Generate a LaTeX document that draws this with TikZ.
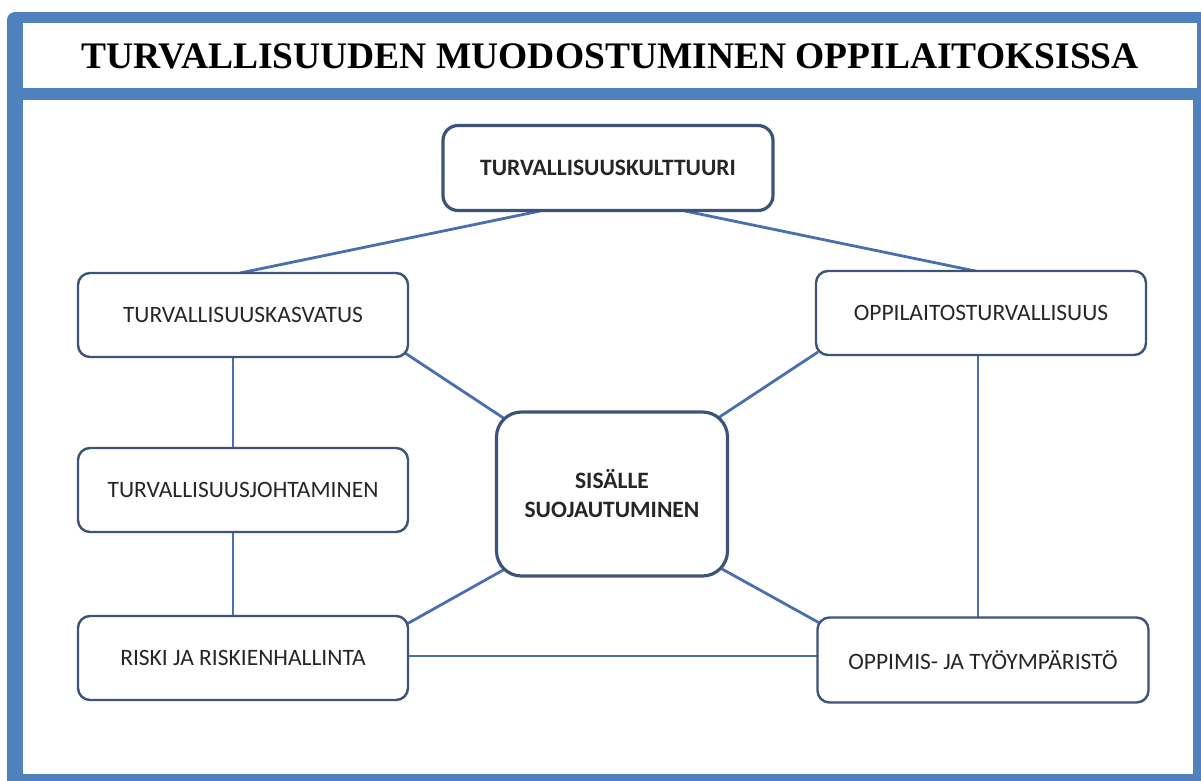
\documentclass[tikz,border=0pt]{standalone}
\usepackage{fontspec}
\setmainfont{Carlito}
\newfontfamily\titlefont{Liberation Serif}
\definecolor{frameblue}{HTML}{4F81BD}
\definecolor{boxline}{HTML}{3D5479}
\definecolor{linkblue}{HTML}{4A6FAE}
\pgfdeclarelayer{bg}
\pgfdeclarelayer{links}
\pgfsetlayers{bg,links,main}
\begin{document}
\begin{tikzpicture}[x=1pt,y=-1pt,
  box/.style={draw=boxline,line width=2.4pt,rounded corners=12pt,fill=white,inner sep=0pt,font=\fontsize{23.5}{27}\selectfont,text=black!85,minimum width=330pt,minimum height=84pt},
  mainbox/.style={box,line width=3.2pt,font=\fontsize{23.5}{29}\bfseries\selectfont},
  link/.style={draw=linkblue,line width=2.8pt}]
\useasboundingbox (0,0) rectangle (1201,780);
\begin{pgfonlayer}{bg}
\fill[frameblue,rounded corners=8pt] (7,12) rectangle (1220,800);
\fill[white] (23,23) rectangle (1197,88);
\fill[white] (23,100) rectangle (1193,774);
\end{pgfonlayer}
\node[font=\titlefont\fontsize{37.5}{40}\bfseries\selectfont,anchor=center] (title) at (610,56) {TURVALLISUUDEN MUODOSTUMINEN OPPILAITOKSISSA};
% nodes
\node[mainbox,rounded corners=15pt,minimum height=85pt] (kult) at (608,168) {TURVALLISUUSKULTTUURI};
\node[box] (kasv) at (243,315) {TURVALLISUUSKASVATUS};
\node[box] (joht) at (243,490) {TURVALLISUUSJOHTAMINEN};
\node[box] (risk) at (243,658) {RISKI JA RISKIENHALLINTA};
\node[box] (oppil) at (981,313) {OPPILAITOSTURVALLISUUS};
\node[box,minimum width=331pt,minimum height=85pt] (oppim) at (983,660) {OPPIMIS- JA TYÖYMPÄRISTÖ};
\node[mainbox,rounded corners=25pt,minimum width=231pt,minimum height=164pt,align=center] (sis) at (612,494) {SISÄLLE\\SUOJAUTUMINEN};
% connector end points
\coordinate (k1) at (540,211);
\coordinate (k2) at (685,211);
\coordinate (ka1) at (240,273);
\coordinate (op1) at (980,272);
\coordinate (kac) at (405,353);
\coordinate (opc) at (818,352);
\coordinate (s1) at (505,419);
\coordinate (s2) at (718,418);
\coordinate (s3) at (505,569);
\coordinate (s4) at (722,569);
\coordinate (rc) at (405,625);
\coordinate (oc) at (825,626);
\coordinate (rm) at (408,656);
\coordinate (om) at (818,656);
\coordinate (v1a) at (233,357);
\coordinate (v1b) at (233,448);
\coordinate (v2a) at (233,532);
\coordinate (v2b) at (233,617);
\coordinate (v3a) at (978,355);
\coordinate (v3b) at (978,618);
\begin{pgfonlayer}{links}
\draw[link] (k1) -- (ka1);
\draw[link] (k2) -- (op1);
\draw[link] (kac) -- (s1);
\draw[link] (opc) -- (s2);
\draw[link] (v1a) -- (v1b);
\draw[link] (v2a) -- (v2b);
\draw[link] (v3a) -- (v3b);
\draw[link] (s3) -- (rc);
\draw[link] (s4) -- (oc);
\draw[link] (rm) -- (om);
\end{pgfonlayer}
\end{tikzpicture}
\end{document}
